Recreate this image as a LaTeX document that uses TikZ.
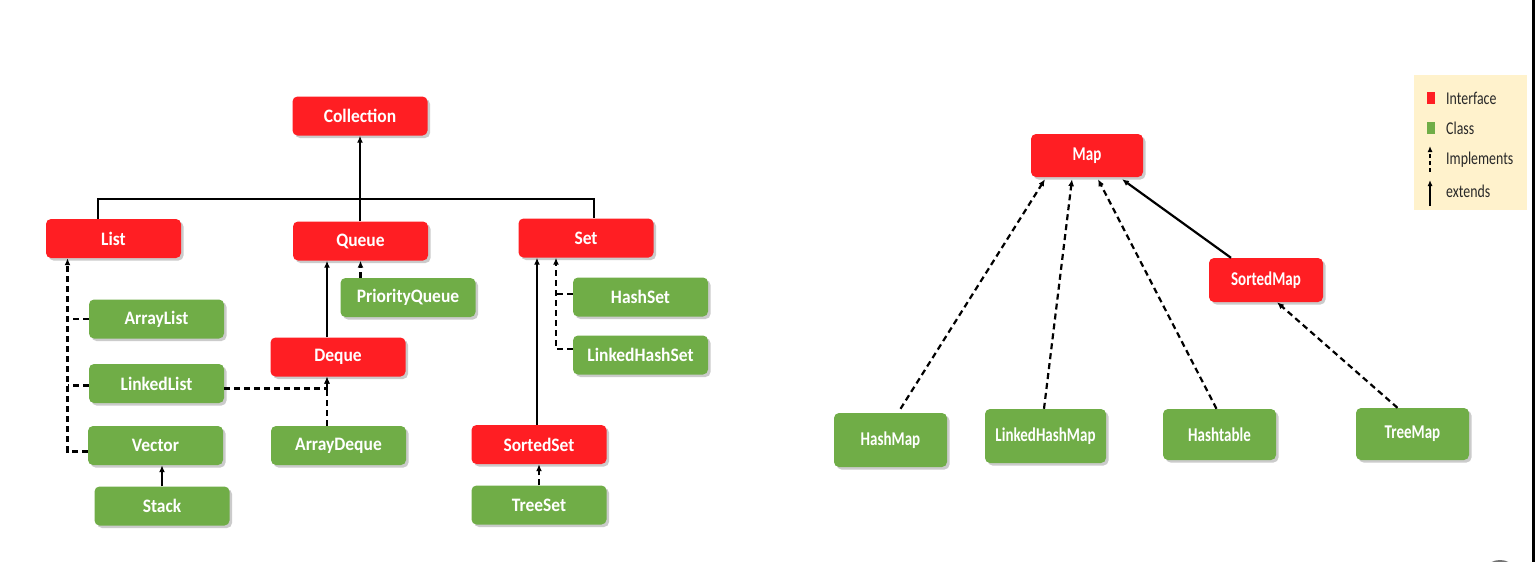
\documentclass[tikz,border=0pt]{standalone}
\usepackage{fontspec}
\setmainfont{Carlito}
\newfontfamily\mapfont{Carlito}[FakeStretch=0.77]
\newfontfamily\boxfont{Carlito}[FakeStretch=0.92]
\usetikzlibrary{arrows.meta,shadows,calc}
\definecolor{ired}{RGB}{255,30,35}
\definecolor{cgreen}{RGB}{112,173,71}
\definecolor{legbg}{RGB}{255,242,204}
\definecolor{legtxt}{RGB}{40,40,40}
\tikzset{
  box/.style={rounded corners=5pt, minimum width=135pt, minimum height=39pt, inner sep=0pt,
    text=white, font=\boxfont\fontsize{19}{21}\selectfont\bfseries,
    drop shadow={shadow xshift=2.5pt, shadow yshift=-2.5pt, fill=black!45, opacity=0.45}},
  iface/.style={box, fill=ired},
  cls/.style={box, fill=cgreen},
  mbox/.style={font=\mapfont\fontsize{19.5}{21}\selectfont\bfseries},
  ext/.style={line width=2.2pt, -{Latex[length=7pt,width=6pt]}},
  impl/.style={line width=2.2pt, dash pattern=on 6pt off 4pt, -{Latex[length=7pt,width=6pt]}},
  dline/.style={line width=2.2pt, dash pattern=on 6pt off 4pt},
  plain/.style={line width=2.2pt},
  legtext/.style={anchor=west, inner sep=0pt, text=legtxt, font=\mapfont\fontsize{18}{20}\selectfont},
}
\begin{document}
\begin{tikzpicture}[x=1pt,y=-1pt]
\useasboundingbox (0,0) rectangle (1535,562);
\fill[white] (0,0) rectangle (1535,562);
\fill[black] (1532,0) rectangle (1535,562);
\fill[black!55] (1500,567) ellipse [x radius=12, y radius=7];

% ---- Collection hierarchy ----
\node[iface] (coll) at (360,116) {Collection};
\node[iface] (list) at (113.5,238.5) {List};
\node[iface] (queue) at (360.5,241) {Queue};
\node[iface] (set) at (586,238) {Set};
\node[cls] (pq) at (408,297.5) {PriorityQueue};
\node[iface] (deque) at (338,357) {Deque};
\node[cls] (alist) at (156.5,319) {ArrayList};
\node[cls] (llist) at (156.5,383.5) {LinkedList};
\node[cls] (vector) at (155.5,445.5) {Vector};
\node[cls] (stack) at (162,506) {Stack};
\node[cls] (adeque) at (338.5,445.5) {ArrayDeque};
\node[cls] (hset) at (640.5,297) {HashSet};
\node[cls] (lhset) at (640.5,355) {LinkedHashSet};
\node[iface] (sset) at (539,444.5) {SortedSet};
\node[cls] (tset) at (539,505) {TreeSet};

\coordinate (bl) at (98,199);
\coordinate (br) at (594,199);
\draw[plain] (list.north -| bl) -- (bl) -- (br) -- (set.north -| br);
\draw[ext] (queue.north -| coll.south) -- (coll.south);

\draw[impl] (pq.north -| queue.south) -- (queue.south);
\coordinate (dqx) at ([xshift=-11pt]deque.north);
\draw[ext] (dqx) -- (dqx |- queue.south);
\draw[impl] (adeque.north -| dqx) -- (deque.south -| dqx);
\coordinate (llx) at ([yshift=-5pt]llist.east);
\draw[impl] (llx) -| (deque.south -| dqx);

\coordinate (lx) at ([xshift=-46pt]list.south);
\coordinate (vx) at ([yshift=-6pt]vector.west);
\draw[impl] (vx) -| (lx);
\draw[dline] (alist.west) -- (alist.west -| lx);
\draw[dline] ([yshift=-2pt]llist.west) -- ([yshift=-2pt]llist.west -| lx);
\draw[ext] (stack.north) -- (stack.north |- vector.south);

\draw[ext] ([xshift=-2pt]sset.north) -- ([xshift=-2pt]sset.north |- set.south);
\coordinate (sx) at ([xshift=-30pt]set.south);
\coordinate (lhx) at ([yshift=6pt]lhset.west);
\draw[impl] (lhx) -| (sx);
\draw[dline] ([yshift=3pt]hset.west) -- ([yshift=3pt]hset.west -| sx);
\draw[impl] (tset.north) -- (sset.south);

% ---- Map hierarchy ----
\node[iface, mbox, minimum width=112pt, minimum height=43pt] (map) at (1087,155.5) {Map};
\node[iface, mbox, minimum width=114pt, minimum height=44pt] (smap) at (1266,280) {SortedMap};
\node[cls, mbox, minimum width=113pt, minimum height=54pt] (hmap) at (890.5,440) {HashMap};
\node[cls, mbox, minimum width=121pt, minimum height=54pt] (lhmap) at (1045.5,436) {LinkedHashMap};
\node[cls, mbox, minimum width=113pt, minimum height=51pt] (htable) at (1219.5,434.5) {Hashtable};
\node[cls, mbox, minimum width=113pt, minimum height=52pt] (tmap) at (1412.5,434) {TreeMap};

\draw[impl] ([xshift=10pt,yshift=4pt]hmap.north) -- ([xshift=-42pt,yshift=-2pt]map.south);
\draw[impl] ([xshift=-1.5pt]lhmap.north) -- ([xshift=-15pt,yshift=-2pt]map.south);
\draw[impl] ([xshift=-3pt]htable.north) -- ([xshift=11pt,yshift=-2pt]map.south);
\draw[ext] ([xshift=-35pt]smap.north) -- ([xshift=35pt,yshift=-2pt]map.south);
\draw[impl] ([xshift=-15pt]tmap.north) -- ([xshift=11pt]smap.south);

% ---- Legend ----
\node[fill=legbg, minimum width=113pt, minimum height=135pt, inner sep=0pt] (legend) at (1470,142.5) {};
\node[fill=ired, minimum width=8pt, minimum height=12pt, inner sep=0pt] (lgi) at (1431,98) {};
\node[fill=cgreen, minimum width=8pt, minimum height=12pt, inner sep=0pt] (lgc) at (1431,128) {};
\node[legtext] (lti) at (1446,98) {Interface};
\node[legtext] (ltc) at (1446,128) {Class};
\node[legtext] (ltm) at (1446,160) {Implements};
\node[legtext] (lte) at (1446,191) {extends};
\coordinate (lia) at (1430,172);
\coordinate (lib) at (1430,146);
\coordinate (lea) at (1430,206);
\coordinate (leb) at (1430,180);
\draw[line width=1.8pt, dash pattern=on 4pt off 3pt, -{Latex[length=6pt,width=5pt]}] (lia) -- (lib);
\draw[line width=1.8pt, -{Latex[length=6pt,width=5pt]}] (lea) -- (leb);
\end{tikzpicture}
\end{document}
